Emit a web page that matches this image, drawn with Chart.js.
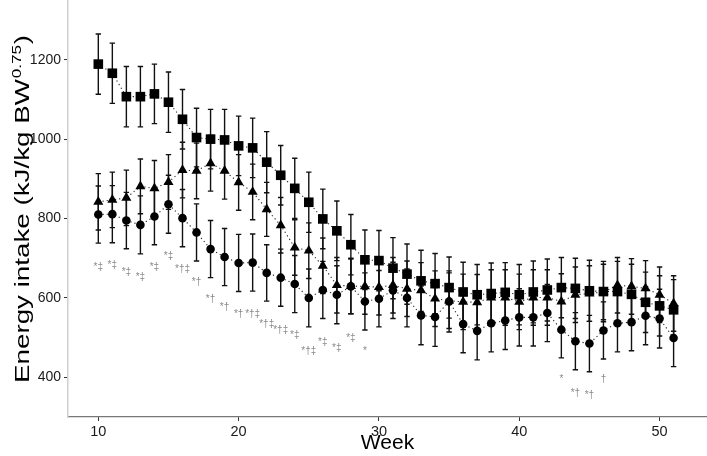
<!DOCTYPE html>
<html>
<head>
<meta charset="utf-8">
<script src="https://cdn.jsdelivr.net/npm/chart.js@4.4.1/dist/chart.umd.min.js"></script>
<style>
html, body { margin: 0; padding: 0; background: #fff; }
</style>
</head>
<body>
<canvas id="chart" width="707" height="456"></canvas>
<script>
// weeks 10..51
const weeks = [10,11,12,13,14,15,16,17,18,19,20,21,22,23,24,25,26,27,28,29,30,
               31,32,33,34,35,36,37,38,39,40,41,42,43,44,45,46,47,48,49,50,51];

// squares
const squareMean = [1189,1166,1107,1107,1114,1093,1050,1004,1000,998,983,978,942,909,876,841,799,769,734,696,694,
                    675,660,643,636,626,615,608,611,614,608,615,620,626,624,618,616,616,609,589,580,570];
const squareErr  = [76,76,76,76,75,76,75,74,75,77,75,75,77,75,76,76,75,75,76,75,76,
                    77,76,77,76,77,75,76,77,75,76,78,78,76,76,77,76,76,76,76,76,76];

// triangles
const triMean = [842,847,852,881,876,892,922,920,939,920,891,867,823,783,727,719,681,632,630,629,627,
                 632,623,619,598,593,590,589,601,601,590,601,601,591,608,611,615,632,629,624,608,586];
const triErr  = [71,70,70,69,70,69,70,70,70,71,70,70,68,70,70,70,70,70,70,70,70,
                 70,70,70,70,70,70,70,70,70,70,70,70,70,70,70,70,70,70,70,70,70];

// circles
const circMean = [810,811,795,784,805,836,801,765,723,703,688,689,663,651,635,600,620,608,629,591,598,
                  619,600,556,552,591,534,517,536,543,551,551,562,520,491,485,518,536,539,555,548,499];
const circErr  = [72,72,71,73,71,73,72,72,72,72,72,72,71,72,72,73,72,73,69,72,71,
                  71,73,74,74,77,72,73,72,73,72,72,72,71,72,71,72,72,72,73,74,72];

// significance marks
const markWeeks  = [10,11,12,13,14,15,16,17,18,19,20,21,22,23,24,25,26,27,28,29,43,44,45,46];
const markLabels = ['*‡','*‡','*‡','*‡','*‡','*‡','*†‡','*†','*†','*†','*†','*†‡','*†‡','*†‡','*‡','*†‡',
                    '*‡','*‡','*‡','*','*','*†','*†','†'];
const markY      = [678,682,664,651,676,704,672,639,596,576,560,558,533,518,505,465,488,474,499,465,395,361,354,395];

const xTicks = [10,20,30,40,50];
const yTicks = [400,600,800,1000,1200];

const FONT = "'Liberation Sans', Arial, sans-serif";

function pts(ys){
    return weeks.map((w,i)=>({x:w, y:ys[i]}));
}

const series = [
    {mean: squareMean, err: squareErr},
    {mean: triMean, err: triErr},
    {mean: circMean, err: circErr}
];

// error bars under the markers
const errorBars = {
    id: 'errorBars',
    beforeDatasetsDraw(chart){
        const ctx = chart.ctx, xs = chart.scales.x, ys = chart.scales.y;
        ctx.save();
        ctx.strokeStyle = '#111';
        ctx.lineWidth = 1.4;
        series.forEach(s=>{
            weeks.forEach((w,i)=>{
                const px = xs.getPixelForValue(w);
                const top = ys.getPixelForValue(s.mean[i] + s.err[i]);
                const bot = ys.getPixelForValue(s.mean[i] - s.err[i]);
                ctx.beginPath();
                ctx.moveTo(px, top); ctx.lineTo(px, bot);
                ctx.moveTo(px-2.7, top); ctx.lineTo(px+2.7, top);
                ctx.moveTo(px-2.7, bot); ctx.lineTo(px+2.7, bot);
                ctx.stroke();
            });
        });
        ctx.restore();
    }
};

const marks = {
    id: 'marks',
    afterDatasetsDraw(chart){
        const ctx = chart.ctx, xs = chart.scales.x, ys = chart.scales.y;
        ctx.save();
        ctx.fillStyle = '#8a8a8a';
        ctx.font = '10px ' + FONT;
        ctx.textAlign = 'center';
        ctx.textBaseline = 'middle';
        markWeeks.forEach((w,i)=>{
            ctx.fillText(markLabels[i], xs.getPixelForValue(w), ys.getPixelForValue(markY[i]));
        });
        ctx.restore();
    }
};

// y title with a real superscript
const yTitle = {
    id: 'yTitle',
    afterDraw(chart){
        const ctx = chart.ctx, area = chart.chartArea;
        const base = 'Energy intake (kJ/kg BW', sup = '0.75', end = ')';
        const big = '21px ' + FONT, small = '13px ' + FONT;
        ctx.save();
        ctx.fillStyle = '#000';
        ctx.font = big;
        const w1 = ctx.measureText(base).width, w3 = ctx.measureText(end).width;
        ctx.font = small;
        const w2 = ctx.measureText(sup).width + 1;
        const total = w1 + w2 + w3;
        ctx.translate(28.5, (area.top + area.bottom) / 2);
        ctx.rotate(-Math.PI / 2);
        ctx.scale(348 / total, 1);
        ctx.textBaseline = 'alphabetic';
        let x = -total / 2;
        ctx.font = big;   ctx.fillText(base, x, 0); x += w1;
        ctx.font = small; ctx.fillText(sup, x + 0.5, -8); x += w2;
        ctx.font = big;   ctx.fillText(end, x, 0);
        ctx.restore();
    }
};

function lineSet(data, style, r){
    return {
        data: pts(data),
        showLine: true,
        borderColor: '#222',
        borderWidth: 1.1,
        borderDash: [1.2, 3],
        pointStyle: style,
        pointRadius: r,
        pointBackgroundColor: '#000',
        pointBorderColor: '#000',
        pointBorderWidth: 0,
        tension: 0
    };
}

new Chart(document.getElementById('chart'), {
    type: 'line',
    data: {
        datasets: [
            lineSet(squareMean, 'rect', 6.8),
            lineSet(triMean, 'triangle', 5.8),
            lineSet(circMean, 'circle', 4.3)
        ]
    },
    options: {
        responsive: false,
        animation: false,
        layout: { autoPadding: false, padding: {top: 1, right: 0, left: 0, bottom: 0} },
        plugins: { legend: {display: false}, tooltip: {enabled: false} },
        scales: {
            x: {
                type: 'linear',
                min: 7.84,
                max: 53.38,
                afterBuildTicks: s => { s.ticks = xTicks.map(v=>({value:v})); },
                afterFit: s => { s.height = 39; s.paddingLeft = 0; s.paddingRight = 0; },
                grid: { drawOnChartArea: false, drawTicks: true, tickLength: 4, tickColor: '#333', tickWidth: 1 },
                border: { display: true, color: '#777', width: 1.2 },
                ticks: { color: '#1a1a1a', font: {family: FONT, size: 14.5}, padding: 2, maxRotation: 0,
                         callback: v => String(v) },
                title: { display: true, text: 'Week', color: '#000', font: {family: FONT, size: 21}, padding: {top: 0, bottom: 0} }
            },
            y: {
                min: 300,
                max: 1348,
                afterBuildTicks: s => { s.ticks = yTicks.map(v=>({value:v})); },
                afterFit: s => { s.width = 68; s.paddingTop = 0; s.paddingBottom = 0; },
                grid: { drawOnChartArea: false, drawTicks: true, tickLength: 4, tickColor: '#333', tickWidth: 1 },
                border: { display: true, color: '#cfcfcf', width: 1.5 },
                ticks: { color: '#1a1a1a', font: {family: FONT, size: 14}, padding: 3,
                         callback: v => String(v) },
                title: { display: false }
            }
        }
    },
    plugins: [errorBars, marks, yTitle]
});
</script>
</body>
</html>
